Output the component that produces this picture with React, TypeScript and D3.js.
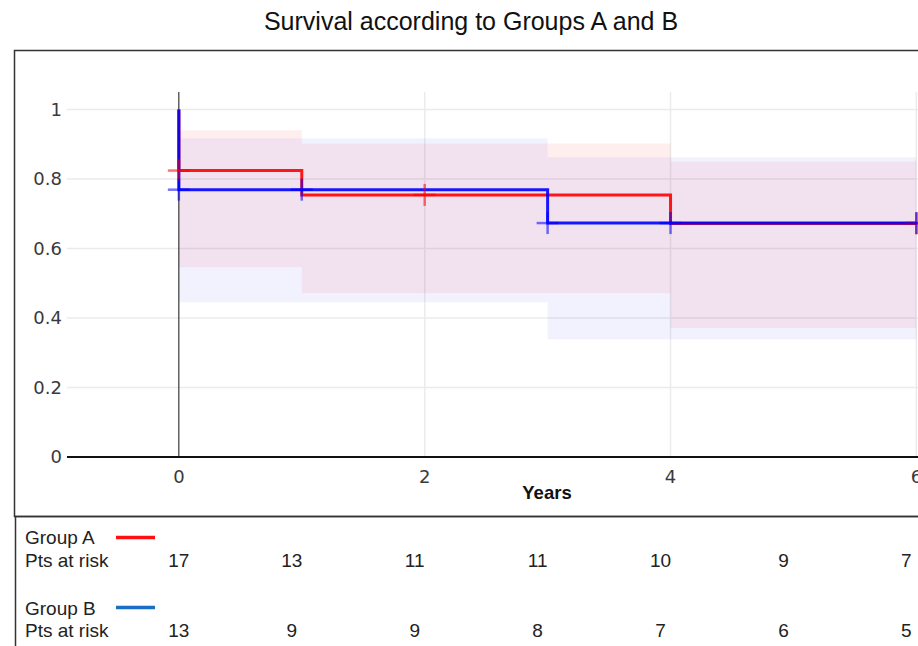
import React from "react";
import * as d3 from "d3";

// survival steps (time, survival)
const curveA: [number, number][] = [[0, 1], [0, 0.824], [1, 0.754], [4, 0.672], [6, 0.672]];
const curveB: [number, number][] = [[0, 1], [0, 0.769], [3, 0.673], [6, 0.673]];

// censored points
const censorA: [number, number][] = [[0, 0.824], [2, 0.754], [6, 0.672]];
const censorB: [number, number][] = [[0, 0.769], [1, 0.769], [3, 0.673], [4, 0.673], [6, 0.673]];

// confidence bands: time, lower, upper
const bandTimesA = [0, 1, 4, 6];
const bandLoA = [0.546, 0.471, 0.371, 0.371];
const bandHiA = [0.94, 0.902, 0.85, 0.85];
const bandTimesB = [0, 3, 6];
const bandLoB = [0.445, 0.339, 0.339];
const bandHiB = [0.917, 0.862, 0.862];

const xTicks = [0, 2, 4, 6];
const yTicks = [0, 0.2, 0.4, 0.6, 0.8, 1];

const riskTimes = [0, 1, 2, 3, 4, 5, 6];
const riskA = [17, 13, 11, 11, 10, 9, 7];
const riskB = [13, 9, 9, 8, 7, 6, 5];

const W = 918;
const H = 646;
const M = { left: 67, top: 92, bottom: 457, right: 1027 };

const RED = "#ff0000";
const BLUE = "#0000ff";

export default function App() {
  const x = d3.scaleLinear().domain([-0.91, 6.9]).range([M.left, M.right]);
  const y = d3.scaleLinear().domain([0, 1.05]).range([M.bottom, M.top]);
  // table columns sit a bit left of the time positions, except the first one
  const colX = (t: number) => (t === 0 ? x(t) : x(t) - 10);

  const line = d3
    .line<[number, number]>()
    .x((d) => x(d[0]))
    .y((d) => y(d[1]))
    .curve(d3.curveStepAfter);

  const band = (times: number[], lo: number[], hi: number[]) =>
    d3
      .area<number>()
      .x((i) => x(times[i]))
      .y0((i) => y(lo[i]))
      .y1((i) => y(hi[i]))
      .curve(d3.curveStepAfter)(d3.range(times.length)) || "";

  const cross = (pts: [number, number][], color: string) =>
    pts.map((p, i) => (
      <g key={i} stroke={color} strokeWidth={2.5} strokeOpacity={0.55}>
        <line x1={x(p[0]) - 11} x2={x(p[0]) + 11} y1={y(p[1])} y2={y(p[1])} />
        <line x1={x(p[0])} x2={x(p[0])} y1={y(p[1]) - 11} y2={y(p[1]) + 11} />
      </g>
    ));

  const font = "'Liberation Sans', Arial, sans-serif";
  const tickFont = "'DejaVu Sans', Verdana, sans-serif";

  return (
    <svg width={W} height={H} style={{ position: "absolute", left: 0, top: 0, background: "#fff" }}>
      <text x={471} y={30} textAnchor="middle" fontFamily={font} fontSize={25} fill="#111">
        Survival according to Groups A and B
      </text>

      {/* frames */}
      <rect x={14.5} y={50.5} width={930} height={466} fill="none" stroke="#333" strokeWidth={1.5} />
      <rect x={15.5} y={516.5} width={930} height={160} fill="none" stroke="#333" strokeWidth={1.5} />

      {/* grid */}
      {yTicks.filter((t) => t > 0).map((t) => (
        <line key={t} x1={M.left} x2={W} y1={y(t)} y2={y(t)} stroke="#ebebeb" strokeWidth={1.5} />
      ))}
      {xTicks.filter((t) => t > 0).map((t) => (
        <line key={t} x1={x(t)} x2={x(t)} y1={M.top} y2={M.bottom} stroke="#ebebeb" strokeWidth={1.5} />
      ))}

      {/* bands */}
      <path d={band(bandTimesA, bandLoA, bandHiA)} fill={RED} fillOpacity={0.065} />
      <path d={band(bandTimesB, bandLoB, bandHiB)} fill={BLUE} fillOpacity={0.05} />

      {/* zero line and axis */}
      <line x1={x(0)} x2={x(0)} y1={M.top} y2={M.bottom} stroke="#111" strokeWidth={1} />
      <line x1={M.left} x2={W} y1={M.bottom} y2={M.bottom} stroke="#111" strokeWidth={2} />

      {yTicks.map((t) => (
        <text key={t} x={62} y={y(t)} dy="0.36em" textAnchor="end" fontFamily={tickFont} fontSize={18} fill="#3a3a3a">
          {d3.format("~g")(t)}
        </text>
      ))}
      {xTicks.map((t) => (
        <text key={t} x={x(t)} y={483} textAnchor="middle" fontFamily={tickFont} fontSize={18} fill="#3a3a3a">
          {t}
        </text>
      ))}
      <text x={(M.left + M.right) / 2} y={499} textAnchor="middle" fontFamily={font} fontWeight="bold" fontSize={18.5} fill="#111">
        Years
      </text>

      {/* curves */}
      <path d={line(curveA) || ""} fill="none" stroke={RED} strokeWidth={3} strokeOpacity={0.9} />
      <path d={line(curveB) || ""} fill="none" stroke={BLUE} strokeWidth={3} strokeOpacity={0.9} />
      {cross(censorA, RED)}
      {cross(censorB, BLUE)}

      {/* risk table */}
      <g fontFamily={font} fontSize={19} fill="#222">
        <text x={25} y={544}>Group A</text>
        <line x1={116} x2={155} y1={537.5} y2={537.5} stroke="#ff1010" strokeWidth={3.5} />
        <text x={25} y={567}>Pts at risk</text>
        {riskTimes.map((t, i) => (
          <text key={t} x={colX(t)} y={567} textAnchor="middle">{riskA[i]}</text>
        ))}
        <text x={25} y={615}>Group B</text>
        <line x1={116} x2={155} y1={607.5} y2={607.5} stroke="#1a6ec8" strokeWidth={3.5} />
        <text x={25} y={637}>Pts at risk</text>
        {riskTimes.map((t, i) => (
          <text key={t} x={colX(t)} y={637} textAnchor="middle">{riskB[i]}</text>
        ))}
      </g>
    </svg>
  );
}
